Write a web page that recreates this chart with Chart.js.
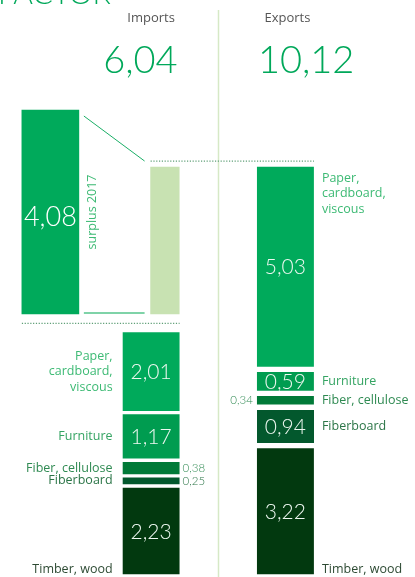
<!DOCTYPE html>
<html><head><meta charset="utf-8">
<script src="https://cdn.jsdelivr.net/npm/chart.js@4"></script>
<style>html,body{margin:0;padding:0;background:#fff;overflow:hidden}#wrap{width:415px;height:577px;position:relative}</style>
</head><body><div id="wrap"><canvas id="c"></canvas></div>
<script>
// ---- data ----
const categories = ['Imports', 'Exports'];
const totals = [6.04, 10.12];
const products = ['Timber, wood', 'Fiberboard', 'Fiber, cellulose', 'Furniture', 'Paper, cardboard, viscous'];
const productLines = [['Timber, wood'], ['Fiberboard'], ['Fiber, cellulose'], ['Furniture'], ['Paper,', 'cardboard,', 'viscous']];
const importValues = [2.23, 0.25, 0.38, 1.17, 2.01];
const exportValues = [3.22, 0.94, 0.34, 0.59, 5.03];
const surplusValue = 4.08;
const surplusLabel = 'surplus 2017';
const headerFragment = 'FACTOR';

// ---- styles / layout ----
const slot = { surplus: 1, Imports: 4, Exports: 8 };
const fills = ['#02390f', '#03582d', '#017a38', '#009c50', '#00aa5b'];
const labelCols = ['#2d4a33', '#2b7547', '#2f8a52', '#35a463', '#3dba74'];
const GREEN = '#00a85a';
const GAP_IMP = 2, GAP_EXP = 3;
const fmt = v => v.toFixed(2).replace('.', ',');

const datasets = products.map((p, i) => ({
  label: p,
  data: [{ x: slot.Imports, y: importValues[i] }, { x: slot.Exports, y: exportValues[i] }],
  backgroundColor: fills[i],
  borderColor: '#ffffff',
  borderWidth: [
    { top: GAP_IMP, bottom: i === 0 ? GAP_EXP : GAP_IMP, left: 0, right: 0 },
    { top: GAP_EXP, bottom: GAP_EXP, left: 0, right: 0 }
  ],
  borderSkipped: false,
  barThickness: 57,
  yAxisID: 'y'
}));
datasets.push({
  label: 'surplus to scale',
  data: [{ x: slot.Imports, y: surplusValue }],
  backgroundColor: '#c8e2b2',
  borderColor: '#ffffff',
  borderWidth: { top: GAP_EXP, bottom: 16.5, left: 28, right: 0 },
  borderSkipped: false,
  barThickness: 57,
  yAxisID: 'y'
});
datasets.push({
  label: surplusLabel,
  data: [{ x: slot.surplus, y: surplusValue }],
  backgroundColor: '#00aa5b',
  borderWidth: 0,
  barThickness: 57,
  yAxisID: 'y2'
});

function rectOf(el) {
  let bw = el.options.borderWidth;
  if (typeof bw === 'number') bw = { top: bw, bottom: bw, left: bw, right: bw };
  const top = Math.min(el.y, el.base), bot = Math.max(el.y, el.base);
  const l = el.x - el.width / 2;
  return { l: l + (bw.left || 0), r: l + el.width - (bw.right || 0), t: top + (bw.top || 0), b: bot - (bw.bottom || 0), cx: el.x };
}

const deco = {
  id: 'deco',
  afterDatasetsDraw(chart) {
    const ctx = chart.ctx;
    const seg = (d, j) => rectOf(chart.getDatasetMeta(d).data[j]);
    const imp = products.map((_, i) => seg(i, 0));
    const exp = products.map((_, i) => seg(i, 1));
    const lg = seg(5, 0);
    const sur = seg(6, 0);
    const impL = imp[0].l, impR = imp[0].r, expL = exp[0].l, expR = exp[0].r;
    const impC = (impL + impR) / 2, expC = (expL + expR) / 2;
    ctx.save();

    // separator
    ctx.strokeStyle = '#d6e9c6'; ctx.lineWidth = 1.5;
    const sx = Math.round((impR + expL) / 2) + 0.5;
    ctx.beginPath(); ctx.moveTo(sx, 10); ctx.lineTo(sx, 577); ctx.stroke();

    // dotted lines
    ctx.strokeStyle = '#5f9f77'; ctx.lineWidth = 1.2; ctx.setLineDash([1.2, 1.6]);
    const upY = lg.t - 6;
    ctx.beginPath(); ctx.moveTo(lg.l, upY); ctx.lineTo(expR, upY); ctx.stroke();
    const loY = (lg.b + imp[4].t) / 2;
    ctx.beginPath(); ctx.moveTo(sur.l, loY); ctx.lineTo(impR, loY); ctx.stroke();
    ctx.setLineDash([]);

    // magnifier lines
    ctx.strokeStyle = '#1aae66'; ctx.lineWidth = 1;
    ctx.beginPath(); ctx.moveTo(sur.r + 5, sur.t + 6); ctx.lineTo(lg.l - 6, upY); ctx.stroke();
    ctx.strokeStyle = '#7fd3a8'; ctx.lineWidth = 2;
    ctx.beginPath(); ctx.moveTo(sur.r + 5, sur.b - 1); ctx.lineTo(lg.l - 6, sur.b - 1); ctx.stroke();

    // header fragment (cropped title)
    ctx.fillStyle = GREEN; ctx.font = '300 30px Lato'; ctx.textAlign = 'left'; ctx.textBaseline = 'alphabetic';
    ctx.fillText(headerFragment, -2, 4);

    // headers
    ctx.fillStyle = '#555555'; ctx.font = '13px "Open Sans"'; ctx.textAlign = 'center'; ctx.textBaseline = 'middle';
    ctx.fillText(categories[0], impC, 18);
    ctx.fillText(categories[1], expC + 2, 18);

    // totals
    ctx.fillStyle = GREEN; ctx.font = '300 38px Lato'; ctx.textBaseline = 'alphabetic';
    ctx.textAlign = 'right'; ctx.fillText(fmt(totals[0]), impR - 2, 73);
    ctx.textAlign = 'left'; ctx.fillText(fmt(totals[1]), expL + 1, 73);

    // surplus
    ctx.fillStyle = '#ffffff'; ctx.font = '300 27px Lato'; ctx.textAlign = 'center'; ctx.textBaseline = 'middle';
    ctx.fillText(fmt(surplusValue), (sur.l + sur.r) / 2, (sur.t + sur.b) / 2 + 5);
    ctx.save();
    ctx.translate(sur.r + 14, (sur.t + sur.b) / 2);
    ctx.rotate(-Math.PI / 2);
    ctx.fillStyle = '#3dba74'; ctx.font = '12.5px "Open Sans"';
    ctx.fillText(surplusLabel, 0, 0);
    ctx.restore();

    // segment labels
    const lineH = 15.5;
    function drawGroup(rects, values, side) {
      rects.forEach((r, i) => {
        const cy = (r.t + r.b) / 2;
        const v = values[i];
        if (v >= 0.5) {
          ctx.fillStyle = '#eef8f1'; ctx.font = '300 21px Lato'; ctx.textAlign = 'center'; ctx.textBaseline = 'middle';
          ctx.fillText(fmt(v), r.cx, cy + 1);
        } else {
          ctx.fillStyle = labelCols[i]; ctx.font = '300 11.5px Lato'; ctx.textBaseline = 'middle';
          if (side === 'left') { ctx.textAlign = 'left'; ctx.fillText(fmt(v), r.r + 3, cy); }
          else { ctx.textAlign = 'right'; ctx.fillText(fmt(v), r.l - 4, cy); }
        }
        const lines = productLines[i];
        ctx.fillStyle = labelCols[i]; ctx.font = '12.5px "Open Sans"'; ctx.textBaseline = 'middle';
        let y0;
        if (i === 0) y0 = r.b - 5;
        else if (side === 'right' && lines.length > 1) y0 = r.t + 11;
        else y0 = cy - (lines.length - 1) * lineH / 2;
        const lx = side === 'left' ? r.l - 10 : r.r + 8;
        ctx.textAlign = side === 'left' ? 'right' : 'left';
        lines.forEach((t, k) => ctx.fillText(t, lx, y0 + k * lineH));
      });
    }
    drawGroup(imp, importValues, 'left');
    drawGroup(exp, exportValues, 'right');
    ctx.restore();
  }
};

new Chart(document.getElementById('c'), {
  type: 'bar',
  data: { datasets },
  options: {
    responsive: true,
    maintainAspectRatio: false,
    animation: false,
    layout: { padding: 0 },
    plugins: { legend: { display: false }, tooltip: { enabled: false }, title: { display: false } },
    scales: {
      x: { type: 'linear', min: -0.5, max: 11.86, stacked: true, display: false, offset: false },
      y: { min: 0, max: 14.14, stacked: true, display: false },
      y2: { min: -5.26, max: 6.28, stacked: true, display: false }
    }
  },
  plugins: [deco]
});
</script>
</body></html>
